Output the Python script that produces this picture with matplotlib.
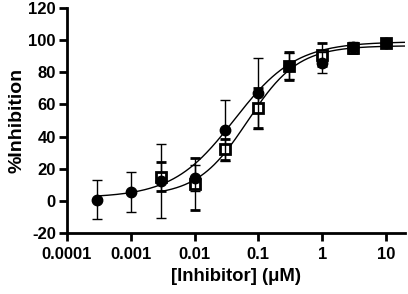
import numpy as np
import matplotlib
matplotlib.use("Agg")
import matplotlib.pyplot as plt

plt.rcParams["font.family"] = ["Liberation Sans", "DejaVu Sans"]
plt.rcParams["font.weight"] = "bold"
plt.rcParams["axes.unicode_minus"] = False

# --- data ---
conc_circle = [0.0003, 0.001, 0.003, 0.01, 0.03, 0.1, 0.3, 1, 3, 10]
inh_circle = [0.8, 5.6, 12.5, 14.3, 44, 67, 84, 86, 96, 98.5]
err_circle = [12, 12.5, 23, 8, 19, 22, 8, 6.5, 3, 2]

conc_square = [0.003, 0.01, 0.03, 0.1, 0.3, 1, 3, 10]
inh_square = [15, 10.6, 32, 58, 84, 91, 95, 98.5]
err_square = [9, 16, 6.5, 12.5, 8.5, 7, 3, 2]

# 4PL fit parameters: bottom, top, IC50, hill
fit_circle = (2.0, 99.0, 0.042, 0.9)
fit_square = (3.0, 96.5, 0.068, 1.1)


def logistic(x, bottom, top, ic50, hill):
    return bottom + (top - bottom) / (1 + (ic50 / x) ** hill)


fig = plt.figure(figsize=(4.08, 2.94), dpi=100)
ax = fig.add_axes([0.164, 0.207, 0.829, 0.766])

xs = np.logspace(np.log10(0.0003), np.log10(20), 300)
ax.plot(xs, logistic(xs, *fit_circle), color="black", lw=1.0, zorder=2)
xs2 = np.logspace(np.log10(0.003), np.log10(20), 300)
ax.plot(xs2, logistic(xs2, *fit_square), color="black", lw=1.0, zorder=2)

ax.errorbar(conc_square, inh_square, yerr=err_square, fmt="s", ms=7.5,
            mfc="white", mec="black", mew=2, ecolor="black", elinewidth=1,
            capsize=3.8, capthick=1, zorder=3)
ax.errorbar(conc_circle, inh_circle, yerr=err_circle, fmt="o", ms=7.5,
            mfc="black", mec="black", ecolor="black", elinewidth=1,
            capsize=3.8, capthick=1, zorder=4)

ax.set_xscale("log")
ax.set_xlim(0.0001, 20)
ax.set_ylim(-20, 120)
ax.set_yticks([-20, 0, 20, 40, 60, 80, 100, 120])
ax.set_xticks([0.0001, 0.001, 0.01, 0.1, 1, 10])
ax.set_xticklabels(["0.0001", "0.001", "0.01", "0.1", "1", "10"])
ax.minorticks_off()

for side in ("top", "right"):
    ax.spines[side].set_visible(False)
for side in ("left", "bottom"):
    ax.spines[side].set_linewidth(2)
ax.tick_params(width=2, length=6, labelsize=12)
ax.tick_params(axis="y", pad=2)
ax.tick_params(axis="x", pad=4)

ax.set_xlabel("[Inhibitor] (μM)", fontsize=13.3, fontweight="bold", labelpad=4)
ax.set_ylabel("%Inhibition", fontsize=14, fontweight="bold", labelpad=2)

fig.savefig("out.png", dpi=100)
